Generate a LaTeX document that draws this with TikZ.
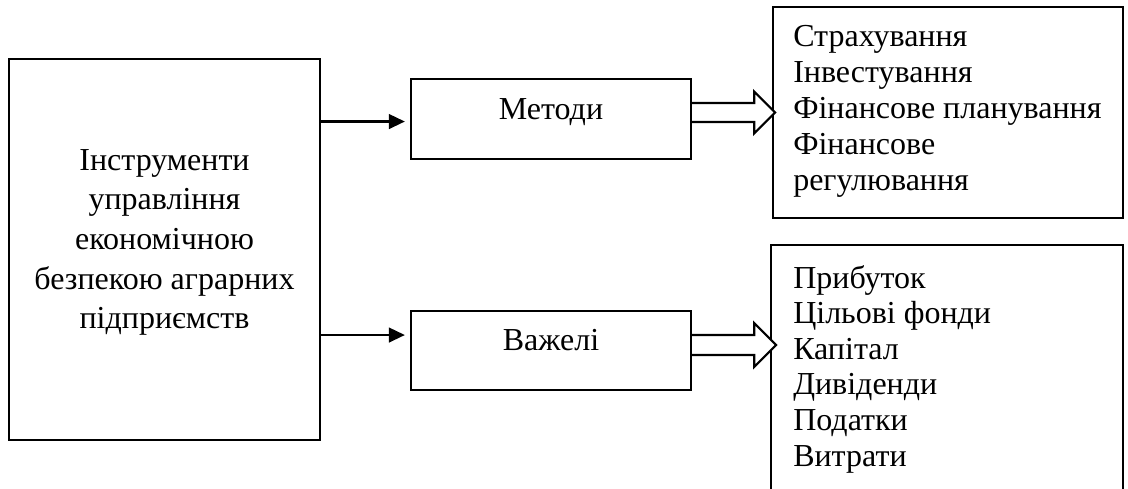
\documentclass[tikz,border=0pt]{standalone}
\usepackage{fontspec}
\setmainfont{Liberation Serif}
\usetikzlibrary{arrows.meta,calc}

\begin{document}
\begin{tikzpicture}[x=0.75pt,y=-0.75pt,>={Triangle[length=12pt,width=11pt]},
  box/.style={draw,line width=1.7pt,inner sep=0pt},
  txt/.style={inner sep=0pt,font=\fontsize{24}{29.7}\selectfont},
  hollow/.style={draw,line width=1.7pt,fill=white}]
\useasboundingbox (0,0) rectangle (1128,489);
\clip (0,0) rectangle (1128,489);

% boxes
\node[box,minimum width=233.25pt,minimum height=285.75pt] (instr) at (164.5,249.5) {};
\node[box,minimum width=210pt,minimum height=60pt] (metody) at (551,119) {};
\node[box,minimum width=210pt,minimum height=59.25pt] (vazheli) at (551,350.5) {};
\node[box,minimum width=262.5pt,minimum height=158.25pt] (listM) at (948,112.5) {};
\node[box,minimum width=264pt,minimum height=206.25pt] (listV) at (947,382.5) {};

% texts
\node[txt,align=center,anchor=north] (instrT) at (164.5,149) {Інструменти\\управління\\економічною\\безпекою аграрних\\підприємств};
\node[txt,anchor=base] (metodyT) at (551,119) {Методи};
\node[txt,anchor=base] (vazheliT) at (551,350) {Важелі};
\node[txt,align=left,anchor=north west,font=\fontsize{24}{27}\selectfont] (listMT) at (793,25)
  {Страхування\\Інвестування\\Фінансове планування\\Фінансове\\регулювання};
\node[txt,align=left,anchor=north west,font=\fontsize{24}{26.7}\selectfont] (listVT) at (793,265)
  {Прибуток\\Цільові фонди\\Капітал\\Дивіденди\\Податки\\Витрати};

% arrows
\coordinate (inM) at ([yshift=-1.9pt]metody.west);
\coordinate (inV) at ([yshift=11.6pt]vazheli.west);
\draw[->,line width=1.7pt,shorten >=3.75pt] (instr.east |- inM) -- (inM);
\draw[->,line width=1.7pt,shorten >=3.75pt] (instr.east |- inV) -- (inV);

\coordinate (mA) at ($(metody.east)+(0,-6.5)$);
\coordinate (vA) at ($(vazheli.east)+(0,-5.5)$);
\draw[hollow] (mA) ++(0,-9.5) -- ++(62,0) -- ++(0,-11.5) -- ++(21,21) -- ++(-21,21) -- ++(0,-11.5) -- ++(-62,0);
\draw[hollow] (vA) ++(0,-10) -- ++(62,0) -- ++(0,-12) -- ++(22,22) -- ++(-22,22) -- ++(0,-12) -- ++(-62,0);

\end{tikzpicture}
\end{document}
